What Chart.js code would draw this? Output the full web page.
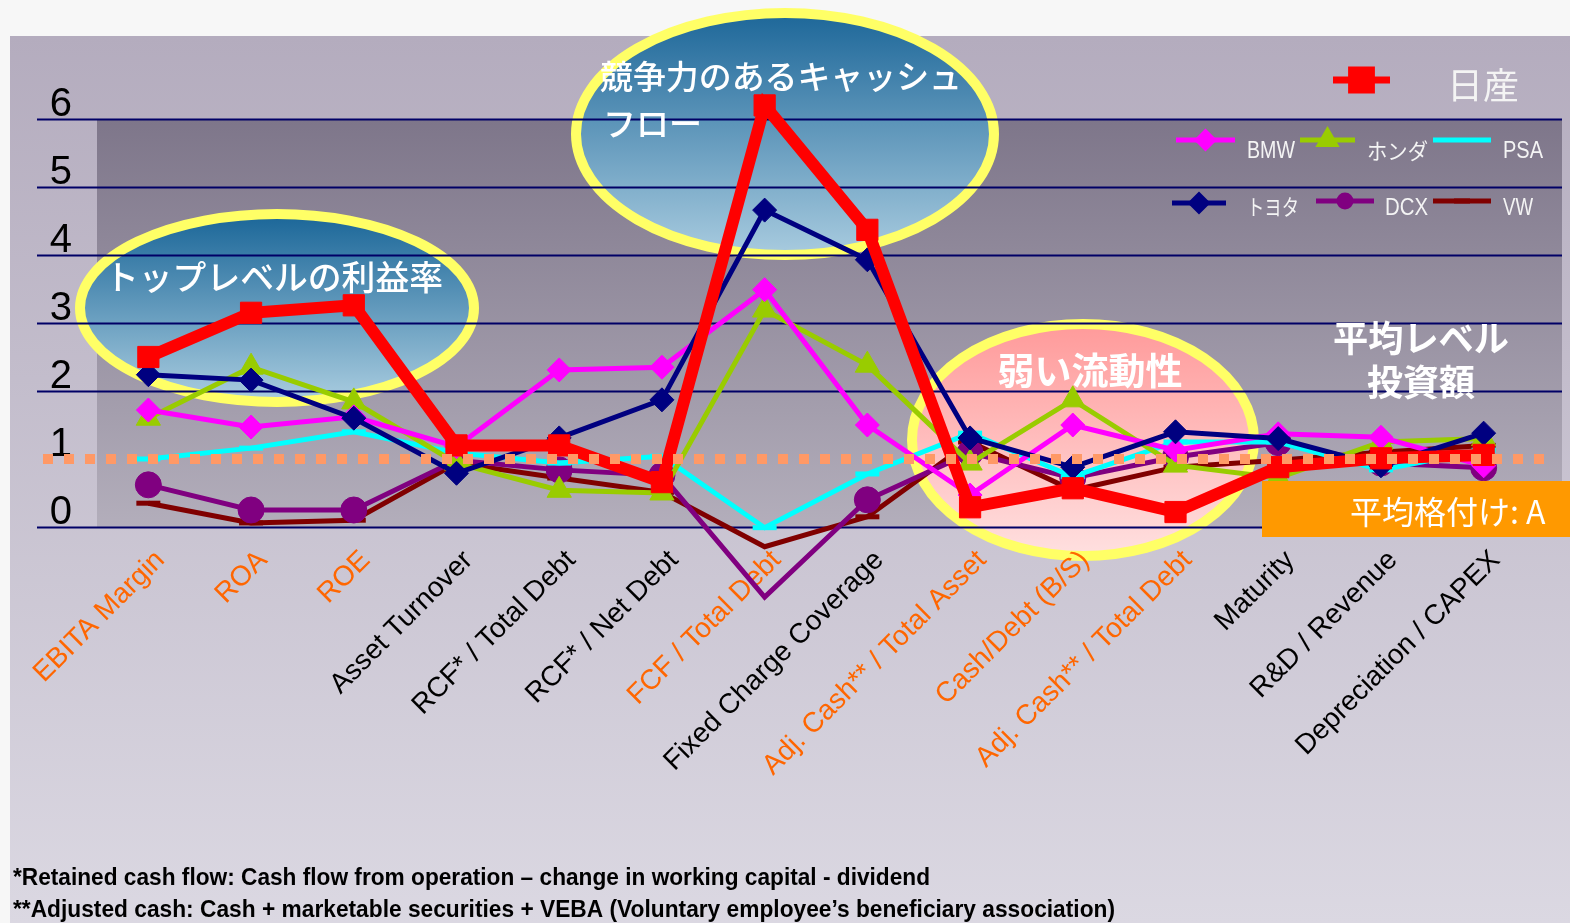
<!DOCTYPE html>
<html>
<head>
<meta charset="utf-8">
<script src="https://cdn.jsdelivr.net/npm/chart.js@4.4.1/dist/chart.umd.min.js"></script>
<style>
  html, body { margin: 0; padding: 0; background: #f7f7f7; }
  #wrap { width: 1570px; height: 923px; position: relative; }
</style>
</head>
<body>
<div id="wrap"><canvas id="ratingChart" width="1570" height="923"></canvas></div>
<script>
// categories (x axis)
const categories = [
    'EBITA Margin', 'ROA', 'ROE', 'Asset Turnover', 'RCF* / Total Debt', 'RCF* / Net Debt',
    'FCF / Total Debt', 'Fixed Charge Coverage', 'Adj. Cash** / Total Asset', 'Cash/Debt (B/S)',
    'Adj. Cash** / Total Debt', 'Maturity', 'R&D / Revenue', 'Depreciation / CAPEX'
];
// categories printed in orange
const highlighted = [0, 1, 2, 6, 8, 9, 10];

// series values
const nissan = [2.5, 3.15, 3.26, 1.2, 1.2, 0.66, 6.2, 4.37, 0.29, 0.57, 0.22, 0.88, 1.01, 1.06];
const toyota = [2.24, 2.16, 1.6, 0.79, 1.31, 1.87, 4.66, 3.93, 1.31, 0.88, 1.4, 1.3, 0.9, 1.38];
const bmw    = [1.72, 1.47, 1.62, 1.18, 2.31, 2.35, 3.49, 1.5, 0.47, 1.5, 1.13, 1.37, 1.32, 0.9];
const honda  = [1.6, 2.35, 1.84, 0.94, 0.54, 0.5, 3.19, 2.38, 0.94, 1.87, 0.91, 0.72, 1.25, 1.3];
const psa    = [1.0, 1.16, 1.4, 1.09, 0.94, 1.04, -0.01, 0.78, 1.38, 0.74, 1.25, 1.25, 0.84, 1.13];
const dcx    = [0.62, 0.25, 0.25, 0.98, 0.84, 0.76, -1.03, 0.4, 1.09, 0.72, 1.03, 1.24, 0.94, 0.87];
const vw     = [0.35, 0.06, 0.1, 0.94, 0.72, 0.51, -0.29, 0.15, 1.25, 0.54, 0.88, 0.98, 1.1, 1.2];

// y axis
const yTicks = [0, 1, 2, 3, 4, 5, 6];
const avgLevel = 1.0;   // dotted "average" line

const JP = '"Noto Sans CJK JP", "Noto Sans", sans-serif';
const LAT = '"Liberation Sans", Arial, sans-serif';
const NARROW = '"Liberation Sans Narrow", "Liberation Sans", Arial, sans-serif';

// ----------------------------------------------------------------------------
// small drawing helpers
// ----------------------------------------------------------------------------

function txt(ctx, s, x, y, font, color, align, maxW) {
    ctx.save();
    ctx.font = font;
    ctx.fillStyle = color;
    ctx.textBaseline = 'middle';
    ctx.textAlign = 'left';
    const w = ctx.measureText(s).width;
    let sx = 1;
    if (maxW && w > maxW) sx = maxW / w;
    let x0 = x;
    if (align === 'center') x0 = x - w * sx / 2;
    else if (align === 'right') x0 = x - w * sx;
    ctx.translate(x0, y);
    ctx.scale(sx, 1);
    ctx.fillText(s, 0, 0);
    ctx.restore();
}

function ellipse(ctx, cx, cy, rx, ry, c1, c2) {
    ctx.save();
    const g = ctx.createLinearGradient(0, cy - ry, 0, cy + ry);
    g.addColorStop(0, c1);
    g.addColorStop(1, c2);
    ctx.beginPath();
    ctx.ellipse(cx, cy, rx, ry, 0, 0, Math.PI * 2);
    ctx.fillStyle = g;
    ctx.fill();
    ctx.lineWidth = 10;
    ctx.strokeStyle = '#ffff66';
    ctx.stroke();
    ctx.restore();
}

function legendItem(ctx, x1, x2, y, color, lw, style, r) {
    ctx.save();
    ctx.strokeStyle = color;
    ctx.lineWidth = lw;
    ctx.beginPath();
    ctx.moveTo(x1, y);
    ctx.lineTo(x2, y);
    ctx.stroke();
    if (style) {
        ctx.fillStyle = color;
        ctx.strokeStyle = color;
        Chart.helpers.drawPoint(ctx, {
            pointStyle: style, radius: r, rotation: 0, borderWidth: style === 'line' ? 5 : 1
        }, (x1 + x2) / 2, y);
    }
    ctx.restore();
}

// ----------------------------------------------------------------------------
// plugin: backgrounds, ellipses, grid lines, overlays
// ----------------------------------------------------------------------------

const slidePlugin = {
    id: 'slide',
    beforeDraw(chart) {
        const ctx = chart.ctx;
        const y = chart.scales.y;
        const area = chart.chartArea;
        ctx.save();
        ctx.fillStyle = '#f7f7f7';
        ctx.fillRect(0, 0, chart.width, chart.height);
        // slide
        let g = ctx.createLinearGradient(0, 36, 0, chart.height);
        g.addColorStop(0, '#b4acbe');
        g.addColorStop(1, '#dbd8e2');
        ctx.fillStyle = g;
        ctx.fillRect(10, 36, chart.width - 10, chart.height - 36);
        // plot area
        const top = y.getPixelForValue(6), bot = y.getPixelForValue(0);
        g = ctx.createLinearGradient(0, top, 0, bot);
        g.addColorStop(0, '#7e768a');
        g.addColorStop(1, '#b3aebb');
        ctx.fillStyle = g;
        ctx.fillRect(area.left, top, 1562 - area.left, bot - top);
        ctx.restore();

        ellipse(ctx, 277, 308, 197, 94, '#1a6698', '#aacde0');
        ellipse(ctx, 785, 134, 209, 121, '#1d6799', '#a8cbdf');
        ellipse(ctx, 1083, 440, 171, 116, '#ff9a9a', '#ffe0e0');
    },
    beforeDatasetsDraw(chart) {
        const ctx = chart.ctx;
        const y = chart.scales.y;
        ctx.save();
        ctx.strokeStyle = '#000066';
        ctx.lineWidth = 2;
        yTicks.forEach(v => {
            if (v === 1) return; // hidden behind the dotted line in the original
            const py = Math.round(y.getPixelForValue(v)) + 0.5;
            ctx.beginPath();
            ctx.moveTo(37, py);
            ctx.lineTo(1562, py);
            ctx.stroke();
        });
        ctx.restore();
    },
    afterDatasetsDraw(chart) {
        const ctx = chart.ctx;
        const y = chart.scales.y;

        // dotted average line
        ctx.save();
        ctx.strokeStyle = '#ff9966';
        ctx.lineWidth = 10;
        ctx.setLineDash([10, 11]);
        const py = y.getPixelForValue(avgLevel);
        ctx.beginPath();
        ctx.moveTo(43, py);
        ctx.lineTo(1550, py);
        ctx.stroke();
        ctx.restore();

        // orange rating box
        ctx.save();
        ctx.fillStyle = '#ff9900';
        ctx.fillRect(1262, 481, 1570 - 1262, 56);
        ctx.restore();
        txt(ctx, '平均格付け: A', 1350, 512, '32px ' + JP, '#ffffff', 'left');

        // annotation texts
        txt(ctx, 'トップレベルの利益率', 105, 277, '500 34px ' + JP, '#ffffff', 'left', 338);
        txt(ctx, '競争力のあるキャッシュ', 600, 76, '500 33px ' + JP, '#ffffff', 'left', 362);
        txt(ctx, 'フロー', 603, 123, '500 33px ' + JP, '#ffffff', 'left');
        txt(ctx, '弱い流動性', 1090, 371, 'bold 37px ' + JP, '#ffffff', 'center', 188);
        txt(ctx, '平均レベル', 1421, 338, 'bold 36px ' + JP, '#ffffff', 'center', 176);
        txt(ctx, '投資額', 1421, 382, 'bold 36px ' + JP, '#ffffff', 'center');

        // legend
        const lc = '#f4f4f4';
        legendItem(ctx, 1333, 1390, 80, '#ff0000', 7, 'rect', 14);
        txt(ctx, '日産', 1447, 85, '36px ' + JP, lc, 'left');
        legendItem(ctx, 1176, 1235, 140, '#ff00ff', 5, 'rectRot', 8);
        txt(ctx, 'BMW', 1247, 151, '24px ' + NARROW, lc, 'left', 48);
        legendItem(ctx, 1300, 1355, 140, '#99cc00', 5, 'triangle', 9);
        txt(ctx, 'ホンダ', 1367, 151, '22px ' + JP, lc, 'left', 61);
        legendItem(ctx, 1433, 1491, 140, '#00ffff', 5, null, 0);
        txt(ctx, 'PSA', 1503, 151, '24px ' + NARROW, lc, 'left', 40);
        legendItem(ctx, 1172, 1226, 203, '#000080', 5, 'rectRot', 8);
        txt(ctx, 'トヨタ', 1247, 207, '22px ' + JP, lc, 'left', 52);
        legendItem(ctx, 1316, 1374, 201, '#800080', 5, 'circle', 6);
        txt(ctx, 'DCX', 1385, 208, '24px ' + NARROW, lc, 'left', 43);
        legendItem(ctx, 1433, 1491, 201, '#800000', 5, 'line', 8);
        txt(ctx, 'VW', 1503, 208, '24px ' + NARROW, lc, 'left', 30);

        // footnotes
        txt(ctx, '*Retained cash flow: Cash flow from operation \u2013 change in working capital - dividend',
            13, 879, 'bold 23px ' + NARROW, '#000000', 'left', 917);
        txt(ctx, '**Adjusted cash: Cash + marketable securities + VEBA (Voluntary employee\u2019s beneficiary association)',
            13, 911, 'bold 23px ' + NARROW, '#000000', 'left', 1102);
    }
};

// ----------------------------------------------------------------------------
// datasets
// ----------------------------------------------------------------------------

function series(label, data, color, width, style, radius) {
    return {
        label: label,
        data: data,
        borderColor: color,
        backgroundColor: color,
        borderWidth: width,
        pointStyle: style,
        pointRadius: radius,
        pointHoverRadius: radius,
        pointBackgroundColor: color,
        pointBorderColor: color,
        pointBorderWidth: style === 'line' ? 5 : 1,
        tension: 0,
        clip: false
    };
}

const datasets = [
    series('日産', nissan, '#ff0000', 12, 'rect', 15),
    series('トヨタ', toyota, '#000080', 5, 'rectRot', 12),
    series('BMW', bmw, '#ff00ff', 5, 'rectRot', 12),
    series('ホンダ', honda, '#99cc00', 5, 'triangle', 14),
    series('PSA', psa, '#00ffff', 5, 'line', 12),
    series('DCX', dcx, '#800080', 5, 'circle', 13),
    series('VW', vw, '#800000', 5, 'line', 12)
];
// the low DCX point has no marker in the original
datasets[5].pointRadius = c => (dcx[c.dataIndex] < -0.5 ? 0 : 13);

const chart = new Chart(document.getElementById('ratingChart'), {
    type: 'line',
    data: { labels: categories, datasets: datasets },
    plugins: [slidePlugin],
    options: {
        responsive: false,
        animation: false,
        layout: { padding: { top: 119, left: 10, right: 35, bottom: 0 } },
        plugins: {
            legend: { display: false },
            tooltip: { enabled: false }
        },
        scales: {
            x: {
                type: 'category',
                offset: true,
                grid: { display: false, drawTicks: false },
                border: { display: false },
                ticks: {
                    autoSkip: false,
                    minRotation: 45,
                    maxRotation: 45,
                    padding: 17,
                    labelOffset: 12,
                    font: { family: LAT, size: 28 },
                    color: c => (highlighted.includes(c.index) ? '#ff6600' : '#000000')
                },
                afterFit: s => { s.height = 396; }
            },
            y: {
                min: 0,
                max: 6,
                grid: { display: false, drawTicks: false },
                border: { display: false },
                ticks: {
                    stepSize: 1,
                    padding: 25,
                    labelOffset: -14,
                    font: { family: LAT, size: 40 },
                    color: '#000000'
                },
                afterFit: s => { s.width = 87; }
            }
        }
    }
});
</script>
</body>
</html>
